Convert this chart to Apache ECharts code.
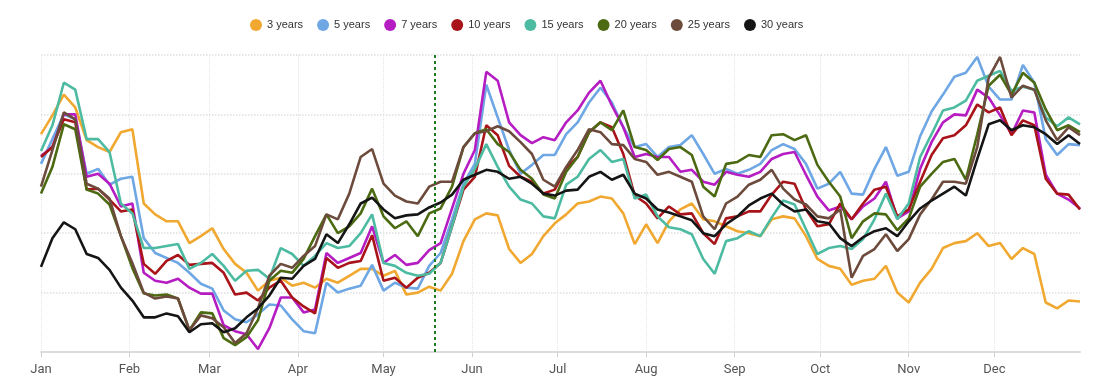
<!DOCTYPE html>
<html>
<head>
<meta charset="utf-8">
<script src="https://cdn.jsdelivr.net/npm/echarts@6/dist/echarts.min.js"></script>
<style>
  html, body { margin: 0; padding: 0; background: #fff; }
  #chart { width: 1100px; height: 387px; }
</style>
</head>
<body>
<div id="chart"></div>
<script>
// ---- Data (arbitrary unlabeled y scale 0-300) ----
const year = 2023;
const monthLabels = ['Jan','Feb','Mar','Apr','May','Jun','Jul','Aug','Sep','Oct','Nov','Dec'];
const monthLengths = [31,28,31,30,31,30,31,31,30,31,30,31];
const sampleStep = 4;          // one reading every 4 days, day 0 .. day 364
const markerDate = '2023-05-19';
const seriesNames = ['3 years','5 years','7 years','10 years','15 years','20 years','25 years','30 years'];
const seriesColors = ['#f0a830','#6ea7e4','#b51cc2','#a8141a','#4dbba1','#4c6a12','#6c4b3c','#151515'];

const y3  = [220,239,260,247,214,207,202,222,225,150,139,132,132,110,117,125,104,89,80,62,72,75,67,70,65,74,70,77,84,84,77,82,58,60,66,62,79,112,134,140,138,104,90,99,117,130,139,150,152,157,155,140,109,129,110,132,144,150,134,132,127,122,120,117,134,137,135,117,94,87,84,68,72,74,87,60,50,70,84,105,110,112,120,107,110,94,105,99,50,44,52,51];
const y5  = [190,215,240,235,180,185,169,175,177,115,100,95,90,80,69,64,42,33,30,38,48,47,33,21,19,70,60,64,67,88,62,70,65,64,87,100,134,170,190,270,237,204,180,189,199,199,220,232,252,267,252,227,207,210,197,207,209,219,200,180,185,180,184,190,204,210,205,190,165,170,182,160,159,185,207,178,182,218,243,260,278,282,298,268,255,255,290,272,215,199,210,209];
const y7  = [198,207,240,240,177,180,170,147,150,80,72,70,74,65,59,59,27,21,18,3,24,55,55,40,43,100,90,95,100,127,90,98,88,90,103,110,145,180,204,283,274,232,219,211,217,214,232,244,262,274,249,227,197,200,197,197,182,184,172,169,182,179,177,182,195,200,202,179,157,143,147,134,147,155,172,135,142,185,212,232,240,239,265,257,239,220,244,242,179,160,154,145];
const y10 = [197,207,235,232,164,165,154,142,144,89,79,92,98,88,89,90,80,58,60,52,65,72,55,46,39,95,85,90,92,118,72,75,65,75,80,90,127,164,177,229,219,188,177,172,160,164,186,197,222,232,227,200,158,150,135,147,139,140,120,109,135,137,142,142,159,172,170,144,127,129,150,134,150,164,167,137,144,172,199,216,219,229,250,242,247,219,234,229,175,160,159,144];
const y15 = [203,229,272,265,215,215,202,150,140,105,105,107,109,84,90,99,87,72,82,83,74,105,99,87,97,110,105,107,120,139,90,87,80,77,79,90,127,167,185,210,187,167,154,150,137,135,169,177,195,204,192,195,155,159,137,126,124,119,94,79,112,115,122,117,136,153,149,124,99,105,107,104,114,134,160,134,150,197,220,244,247,254,274,279,284,264,268,265,237,228,237,230];
const y20 = [160,187,230,225,164,160,149,117,85,59,57,58,54,22,40,39,14,7,15,32,72,82,80,94,117,139,120,127,140,165,137,125,132,117,140,145,167,207,221,225,210,202,184,175,159,155,182,197,222,232,224,244,207,204,194,205,207,199,167,157,190,192,199,197,219,220,214,219,189,172,157,115,132,140,139,123,135,167,180,192,195,174,220,269,280,260,282,272,245,224,229,222];
const y25 = [167,204,242,235,170,165,155,117,90,60,54,56,54,22,37,34,25,9,19,44,77,89,85,97,107,139,134,160,197,205,170,158,152,150,167,172,172,207,221,223,228,223,212,200,174,167,187,204,225,222,210,209,195,192,179,182,177,172,137,124,150,157,169,174,184,165,154,149,137,135,144,75,97,104,119,102,114,139,154,172,172,170,207,277,298,257,269,265,234,214,227,219];
const y30 = [86,115,131,124,99,95,83,65,52,35,35,39,36,20,28,29,20,24,35,44,57,75,74,87,94,119,110,129,150,156,144,135,138,139,146,151,159,174,179,184,182,175,177,170,160,158,163,164,177,182,174,179,160,155,144,141,137,133,120,117,129,137,148,155,160,149,142,144,132,130,115,107,116,122,125,117,132,145,153,160,167,158,195,230,234,224,229,227,220,210,219,210];
const seriesValues = [y3, y5, y7, y10, y15, y20, y25, y30];

// ---- Categories: every day of the year ----
const categories = [];
const monthStart = new Set();
monthLengths.forEach((len, m) => {
  for (let d = 1; d <= len; d++) {
    if (d === 1) monthStart.add(categories.length);
    categories.push(year + '-' + String(m + 1).padStart(2, '0') + '-' + String(d).padStart(2, '0'));
  }
});
const isMonthStart = (idx) => monthStart.has(idx);

const series = seriesNames.map((name, s) => ({
  name: name,
  type: 'line',
  showSymbol: false,
  symbol: 'circle',
  data: seriesValues[s].map((v, i) => [categories[i * sampleStep], v]),
  lineStyle: { width: 2.6, color: seriesColors[s] },
  itemStyle: { color: seriesColors[s] },
  emphasis: { disabled: true },
  markLine: s === 0 ? {
    silent: true,
    symbol: ['none', 'none'],
    label: { show: false },
    lineStyle: { color: '#1f7a1f', type: [3, 3], width: 2 },
    data: [{ xAxis: markerDate }]
  } : undefined
}));

const chart = echarts.init(document.getElementById('chart'));
chart.setOption({
  animation: false,
  color: seriesColors,
  legend: {
    top: 14,
    left: 245,
    icon: 'circle',
    itemWidth: 12,
    itemHeight: 12,
    itemGap: 14,
    textStyle: { fontFamily: 'Arial, "Liberation Sans", sans-serif', fontSize: 11, color: '#333' },
    data: seriesNames
  },
  grid: { left: 41, right: 20, top: 55, bottom: 35 },
  xAxis: {
    type: 'category',
    data: categories,
    boundaryGap: false,
    axisLine: { lineStyle: { color: '#dcdcdc', width: 2 } },
    axisTick: { show: true, interval: isMonthStart, length: 5, lineStyle: { color: '#d0d0d0' } },
    axisLabel: {
      interval: isMonthStart,
      formatter: (val) => monthLabels[parseInt(val.slice(5, 7), 10) - 1],
      color: '#555',
      fontSize: 13,
      fontFamily: 'Roboto, Arial, sans-serif',
      margin: 11
    },
    splitLine: { show: true, interval: isMonthStart, lineStyle: { color: '#e4e4e4', type: 'dotted', width: 1 } }
  },
  yAxis: {
    type: 'value',
    min: 0,
    max: 300,
    interval: 60,
    axisLabel: { show: false },
    axisLine: { show: false },
    axisTick: { show: false },
    splitLine: { lineStyle: { color: '#dedede', type: 'dotted', width: 1.5 } }
  },
  series: series
});
</script>
</body>
</html>
